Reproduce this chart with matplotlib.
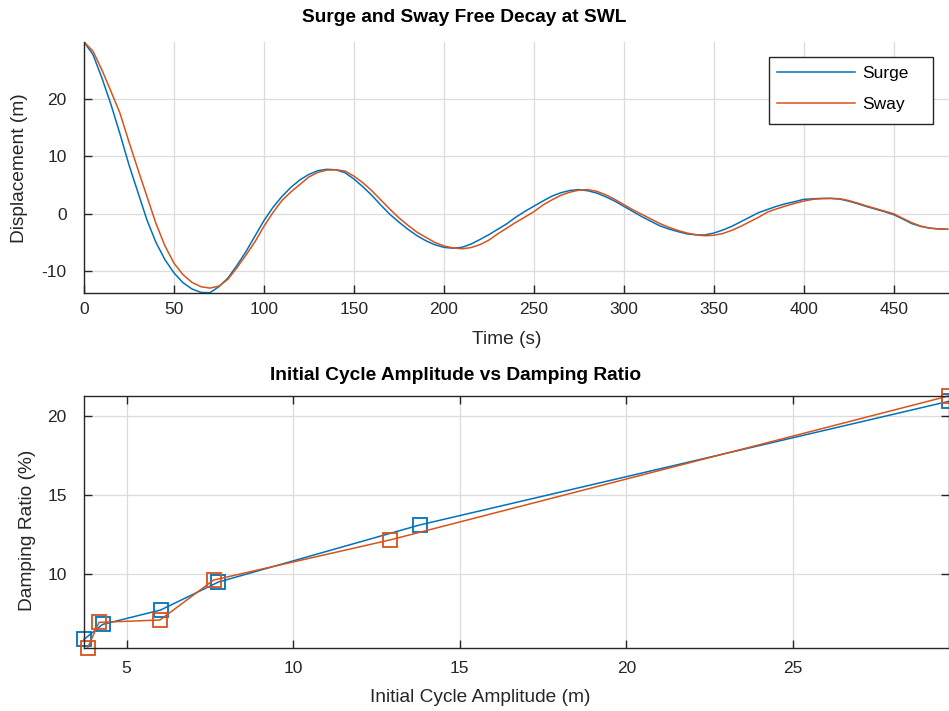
import matplotlib
matplotlib.use("Agg")
import matplotlib.pyplot as plt
from matplotlib.patches import Rectangle
import numpy as np

plt.rcParams['font.family'] = ['Liberation Sans', 'DejaVu Sans']
plt.rcParams['axes.unicode_minus'] = False

# ---- free decay time series (every 5 s) ----
time_s = np.arange(0, 485, 5)
surge = [29.9, 27.7, 23.6, 19.0, 13.9, 8.5, 3.7, -1.1, -5.0, -8.0,
         -10.3, -12.0, -13.1, -13.7, -13.75, -12.7, -11.2, -9.0, -6.6, -3.9,
         -1.2, 1.1, 3.0, 4.6, 5.9, 6.85, 7.5, 7.74, 7.65, 7.15,
         6.05, 4.7, 3.2, 1.5, -0.1, -1.45, -2.7, -3.8, -4.7, -5.4,
         -5.85, -6.0, -5.85, -5.3, -4.5, -3.65, -2.7, -1.75, -0.6, 0.4,
         1.3, 2.2, 3.05, 3.65, 4.05, 4.2, 4.0, 3.6, 2.95, 2.2,
         1.3, 0.4, -0.5, -1.3, -2.1, -2.65, -3.1, -3.5, -3.67, -3.7,
         -3.37, -2.85, -2.2, -1.4, -0.6, 0.2, 0.75, 1.3, 1.75, 2.1,
         2.5, 2.6, 2.67, 2.67, 2.55, 2.2, 1.75, 1.25, 0.8, 0.35,
         -0.15, -0.9, -1.7, -2.2, -2.5, -2.65, -2.7]
sway = [29.9, 28.3, 25.0, 21.3, 17.5, 12.5, 7.7, 3.0, -1.7, -5.6,
        -8.6, -10.6, -11.95, -12.7, -12.95, -12.6, -11.4, -9.4, -7.2, -4.9,
        -2.2, 0.2, 2.3, 3.8, 5.1, 6.4, 7.2, 7.6, 7.65, 7.45,
        6.55, 5.4, 4.0, 2.4, 0.8, -0.7, -2.0, -3.2, -4.1, -5.0,
        -5.6, -5.95, -6.1, -5.9, -5.4, -4.6, -3.5, -2.5, -1.5, -0.6,
        0.35, 1.5, 2.4, 3.2, 3.75, 4.1, 4.2, 3.9, 3.3, 2.5,
        1.6, 0.7, -0.1, -0.9, -1.7, -2.35, -2.9, -3.35, -3.65, -3.83,
        -3.75, -3.45, -2.9, -2.2, -1.4, -0.6, 0.3, 0.85, 1.35, 1.8,
        2.2, 2.5, 2.63, 2.67, 2.62, 2.3, 1.85, 1.35, 0.9, 0.45,
        0.0, -0.8, -1.55, -2.15, -2.5, -2.65, -2.7]

# ---- initial cycle amplitude vs damping ratio ----
surge_amp = [3.72, 4.28, 6.02, 7.75, 13.8, 29.67]
surge_damp = [5.88, 6.82, 7.73, 9.49, 13.1, 20.9]
sway_amp = [3.83, 4.17, 6.0, 7.61, 12.9, 29.67]
sway_damp = [5.35, 6.95, 7.1, 9.62, 12.15, 21.24]

BLUE = '#0072BD'
ORANGE = '#D95319'
AXC = '#262626'
TICK_FS = 12.5
LAB_FS = 13.8

W, H = 949.0, 711.0
fig = plt.figure(figsize=(W / 100, H / 100), dpi=100)
ax1 = fig.add_axes([84 / W, 1 - 293 / H, (948.5 - 84) / W, (293 - 42) / H])
ax2 = fig.add_axes([84 / W, 1 - 647.7 / H, (948.5 - 84) / W, (647.7 - 396) / H])


def style(ax, box, xpad):
    ax.grid(True, color='#dcdcdc', linewidth=0.9)
    ax.set_axisbelow(True)
    for side in ['left', 'bottom', 'top', 'right']:
        ax.spines[side].set_color(AXC)
        ax.spines[side].set_linewidth(1.0)
    if not box:
        ax.spines['top'].set_visible(False)
        ax.spines['right'].set_visible(False)
    ax.tick_params(direction='in', length=6, width=1.0, colors=AXC,
                   labelsize=TICK_FS, top=box, right=box)
    ax.tick_params(axis='y', pad=12.5)
    ax.tick_params(axis='x', pad=xpad)


def ftext(x, y, s, **kw):
    # place text by pixel position (from top-left) of its centre
    fig.text(x / W, 1 - y / H, s, ha='center', va='center', **kw)


# top: free decay
ax1.plot(time_s, surge, color=BLUE, lw=1.1, label='Surge')
ax1.plot(time_s, sway, color=ORANGE, lw=1.1, label='Sway')
ax1.set_xlim(0, 480.5)
ax1.set_ylim(-13.8, 29.9)
ax1.set_xticks(np.arange(0, 451, 50))
ax1.set_yticks([-10, 0, 10, 20])
style(ax1, False, 6.5)

# legend contents without frame, box drawn separately (MATLAB-like wide box)
leg = ax1.legend(loc='upper left', bbox_to_anchor=((769 - 84) / 865, (293 - 57) / 251),
                 borderaxespad=0, fontsize=TICK_FS, handlelength=4.5,
                 frameon=False, labelspacing=0.9, handletextpad=0.4,
                 borderpad=0.5)
ax1.add_patch(Rectangle(((769 - 84) / 865, (293 - 124) / 251), 164 / 865, 67 / 251,
                        transform=ax1.transAxes, facecolor='white',
                        edgecolor=AXC, lw=1.0, zorder=4.5))
leg.set_zorder(5)

# bottom: amplitude vs damping ratio
ax2.plot(surge_amp, surge_damp, color=BLUE, lw=1.1, marker='s', ms=9.5,
         mfc='none', mew=1.3, clip_on=False)
ax2.plot(sway_amp, sway_damp, color=ORANGE, lw=1.1, marker='s', ms=9.5,
         mfc='none', mew=1.3, clip_on=False)
ax2.set_xlim(3.72, 29.67)
ax2.set_ylim(5.35, 21.24)
ax2.set_xticks([5, 10, 15, 20, 25])
ax2.set_yticks([10, 15, 20])
style(ax2, True, 9.5)

# titles and axis labels
ftext(464, 18, 'Surge and Sway Free Decay at SWL', fontsize=LAB_FS,
      fontweight='bold', color='black')
ftext(507, 340, 'Time (s)', fontsize=LAB_FS, color=AXC)
ftext(20, 168, 'Displacement (m)', fontsize=LAB_FS, color=AXC, rotation=90)
ftext(456, 375, 'Initial Cycle Amplitude vs Damping Ratio', fontsize=LAB_FS,
      fontweight='bold', color='black')
ftext(480, 697, 'Initial Cycle Amplitude (m)', fontsize=LAB_FS, color=AXC)
ftext(28, 530, 'Damping Ratio (%)', fontsize=LAB_FS, color=AXC, rotation=90)

fig.savefig('out.png', dpi=100)
